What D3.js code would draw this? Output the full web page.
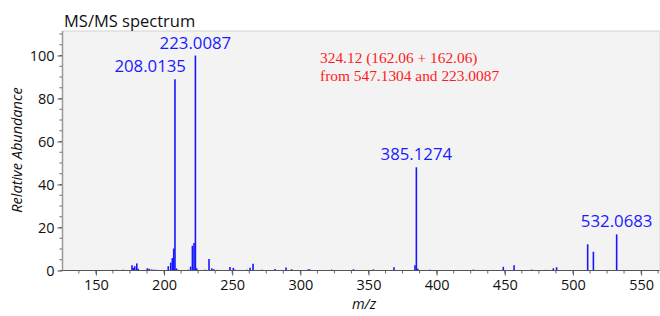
<!DOCTYPE html>
<html><head><meta charset="utf-8">
<script src="https://cdn.jsdelivr.net/npm/d3@7"></script>
<style>body{margin:0;background:#fff}svg{display:block}</style>
</head><body>
<svg id="c" width="660" height="316"></svg>
<script>
const mzValues = [162,165,170,176.5,177.5,178.5,180.0,181,187.7,189,191,193,195,
  203.1,204.9,206.1,207.1,208.0135,209.0,210,217.5,219.5,220.8,222.0,223.0087,224,
  230,233.0,235.0,236.5,239,248.4,250.8,252,261,263.1,265.3,272,281.4,289.5,293.6,300,
  305.9,307,323,339,353.5,368.7,384.1,385.1274,386.2,395,427,448.9,456.8,469.7,480,
  485.6,488,510.8,515.0,532.0683];
const intensities = [0.3,0.3,0.4,2.5,1.2,2.0,3.3,0.8,1.0,0.8,0.5,0.4,0.3,
  2.0,3.7,5.8,10.2,89,1.0,0.4,0.4,1.8,11.5,12.8,100,1.0,
  0.3,5.4,1.0,0.6,0.3,1.6,1.2,0.4,0.3,1.3,3.1,0.3,0.7,1.4,0.6,0.2,
  0.6,0.5,0.4,0.6,0.5,1.5,2.5,48,0.8,0.3,0.4,1.7,2.5,0.4,0.3,
  1.0,1.5,12.2,8.7,16.8];
const labelMz = [208.0135, 223.0087, 385.1274, 532.0683];
const labelInt = [89, 100, 48, 16.8];
const labelText = ["208.0135", "223.0087", "385.1274", "532.0683"];
const xTicks = [150,200,250,300,350,400,450,500,550];
const yTicks = [0,20,40,60,80,100];
const annotation = ["324.12 (162.06 + 162.06)", "from 547.1304 and 223.0087"];
const title = "MS/MS spectrum";

const svg = d3.select("#c");
const L = 62.5, R = 659.5, T = 31, B = 270.5;
const x = d3.scaleLinear().domain([125.5, 563.5]).range([L, R]);
const y = d3.scaleLinear().domain([0, 111.4]).range([B, T]);

svg.append("rect").attr("x", L).attr("y", T).attr("width", R - L).attr("height", B - T)
  .attr("fill", "#f3f3f3");
svg.append("line").attr("x1", L).attr("x2", R).attr("y1", T).attr("y2", T)
  .attr("stroke", "#d2d2d2").attr("stroke-width", 1);
svg.append("line").attr("x1", R).attr("x2", R).attr("y1", T).attr("y2", B)
  .attr("stroke", "#e4e4e4").attr("stroke-width", 1);

const font = "'Open Sans', 'Noto Sans', sans-serif";

// peaks
svg.append("g").selectAll("line").data(mzValues).join("line")
  .attr("x1", d => x(d)).attr("x2", d => x(d))
  .attr("y1", y(0)).attr("y2", (d, i) => y(intensities[i]))
  .attr("stroke", "#1616ff").attr("stroke-width", 1.6);

// y axis
const yMinor = d3.range(0, 111, 5);
const ga = svg.append("g").attr("transform", `translate(${L},0)`);
ga.selectAll(".ymin").data(yMinor).join("line")
  .attr("x1", -3).attr("x2", 0).attr("y1", d => y(d)).attr("y2", d => y(d))
  .attr("stroke", "#666");
const yAxis = d3.axisLeft(y).tickValues(yTicks).tickSize(5).tickPadding(3).tickSizeOuter(0);
const gy = svg.append("g").attr("transform", `translate(${L},0)`).call(yAxis);
gy.select(".domain").remove();
gy.selectAll(".tick line").attr("stroke", "#555");
gy.selectAll("text").attr("font-family", font).attr("font-size", 14.5).attr("fill", "#111");
svg.append("line").attr("x1", L).attr("x2", L).attr("y1", T).attr("y2", B)
  .attr("stroke", "#999").attr("stroke-width", 1.5);

// x axis
const xMinor = d3.range(137.5, 563, 12.5);
svg.append("g").selectAll("line").data(xMinor).join("line")
  .attr("x1", d => x(d)).attr("x2", d => x(d)).attr("y1", B).attr("y2", B + 3)
  .attr("stroke", "#666");
const xAxis = d3.axisBottom(x).tickValues(xTicks).tickSize(5).tickPadding(4).tickSizeOuter(0);
const gx = svg.append("g").attr("transform", `translate(0,${B})`).call(xAxis);
gx.select(".domain").remove();
gx.selectAll(".tick line").attr("stroke", "#555");
gx.selectAll("text").attr("font-family", font).attr("font-size", 14.5).attr("fill", "#111");
svg.append("line").attr("x1", L).attr("x2", R).attr("y1", B).attr("y2", B)
  .attr("stroke", "#555").attr("stroke-width", 1.2);

// peak labels
svg.append("g").selectAll("text").data(labelText).join("text")
  .attr("x", (d, i) => i === 0 ? x(labelMz[i]) + 11 : x(labelMz[i]))
  .attr("y", (d, i) => y(labelInt[i]) - 7)
  .attr("text-anchor", (d, i) => i === 0 ? "end" : "middle")
  .attr("font-family", font).attr("font-size", 16.8).attr("fill", "#1a1aff")
  .text(d => d);

// annotation
svg.append("g").selectAll("text").data(annotation).join("text")
  .attr("x", 320).attr("y", (d, i) => 63 + i * 17.5)
  .attr("font-family", "'Liberation Serif', 'Times New Roman', serif")
  .attr("font-size", 15.4).attr("fill", "#ff1a1a")
  .text(d => d);

// title
svg.append("text").attr("x", 64).attr("y", 27).attr("font-family", font)
  .attr("font-size", 16.5).attr("fill", "#111").text(title);

// axis titles
svg.append("text").attr("transform", `translate(22,150) rotate(-90)`)
  .attr("text-anchor", "middle").attr("font-family", font).attr("font-style", "italic")
  .attr("font-size", 14.5).attr("fill", "#111").text("Relative Abundance");
svg.append("text").attr("x", 364).attr("y", 309).attr("text-anchor", "middle")
  .attr("font-family", font).attr("font-style", "italic").attr("font-size", 14.5)
  .attr("fill", "#111").text("m/z");
</script>
</body></html>
